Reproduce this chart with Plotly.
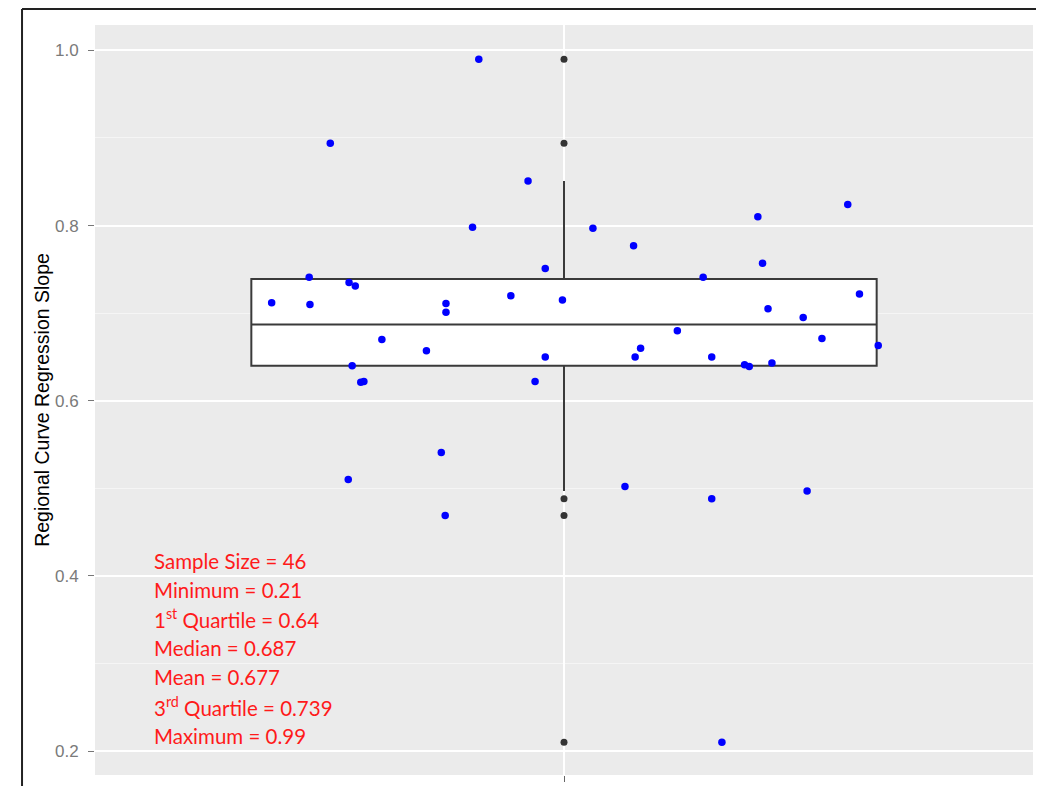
import plotly.graph_objects as go

# ---- data ----
jitter_x = [0.626, 0.674, 0.675, 0.701, 0.725, 0.733, 0.729, 0.740, 0.744, 0.724,
            0.767, 0.824, 0.849, 0.849, 0.843, 0.848, 0.883, 0.891, 0.932, 0.954,
            0.976, 0.976, 0.963, 0.998, 1.037, 1.089, 1.098, 1.091, 1.078, 1.145,
            1.178, 1.189, 1.189, 1.231, 1.237, 1.261, 1.266, 1.248, 1.254, 1.202,
            1.306, 1.330, 1.311, 1.363, 1.378, 1.402]
slopes = [0.712, 0.741, 0.710, 0.894, 0.735, 0.731, 0.640, 0.621, 0.622, 0.510,
          0.670, 0.657, 0.711, 0.701, 0.541, 0.469, 0.798, 0.990, 0.720, 0.851,
          0.751, 0.650, 0.622, 0.715, 0.797, 0.777, 0.660, 0.650, 0.502, 0.680,
          0.741, 0.650, 0.488, 0.641, 0.639, 0.705, 0.643, 0.810, 0.757, 0.210,
          0.695, 0.671, 0.497, 0.824, 0.722, 0.663]

box_pos = [1]
q1 = [0.640]
median = [0.687]
q3 = [0.739]
lower_whisker = [0.497]
upper_whisker = [0.851]
outliers = [0.990, 0.894, 0.488, 0.469, 0.210]

y_ticks = [0.2, 0.4, 0.6, 0.8, 1.0]
y_minor = [0.3, 0.5, 0.7, 0.9]

stats_lines = [
    "Sample Size = 46",
    "Minimum = 0.21",
    "1<sup>st</sup> Quartile = 0.64",
    "Median = 0.687",
    "Mean = 0.677",
    "3<sup>rd</sup> Quartile = 0.739",
    "Maximum = 0.99",
]

fig = go.Figure()

fig.add_trace(go.Box(
    x=box_pos, q1=q1, median=median, q3=q3,
    lowerfence=lower_whisker, upperfence=upper_whisker,
    width=0.8, whiskerwidth=0, boxpoints=False,
    fillcolor="white", line=dict(color="#3a3a3a", width=2),
    showlegend=False, hoverinfo="skip",
))

fig.add_trace(go.Scatter(
    x=box_pos * len(outliers), y=outliers, mode="markers",
    marker=dict(color="#333333", size=7),
    showlegend=False,
))

fig.add_trace(go.Scatter(
    x=jitter_x, y=slopes, mode="markers",
    marker=dict(color="#0000FF", size=7.5),
    showlegend=False,
))

for i, line in enumerate(stats_lines):
    fig.add_annotation(
        x=0.0608, xref="paper", y=0.4176 - i * 0.0333, yref="y",
        text=line, showarrow=False, xanchor="left", yanchor="middle",
        font=dict(family="Lato", size=20.5, color="#FF1A1A"),
    )

# outer frame (left and top edges visible in reference)
fig.add_shape(type="line", xref="paper", yref="paper",
              x0=-0.0778, x1=-0.0778, y0=-0.02, y1=1.0213,
              line=dict(color="#222222", width=2))
fig.add_shape(type="line", xref="paper", yref="paper",
              x0=-0.0778, x1=1.0032, y0=1.0213, y1=1.0213,
              line=dict(color="#222222", width=2))

fig.update_layout(
    width=1038, height=786,
    margin=dict(l=95, r=5, t=25, b=8),
    paper_bgcolor="white", plot_bgcolor="#EBEBEB",
    font=dict(family="Liberation Sans"),
)

fig.update_xaxes(
    range=[0.4, 1.6], tickvals=box_pos, showticklabels=False,
    ticks="outside", ticklen=6, tickcolor="#666666", tickwidth=1,
    showgrid=True, gridcolor="white", gridwidth=1.5, zeroline=False,
    showline=False,
)
fig.update_yaxes(
    range=[0.1727, 1.029], tickvals=y_ticks, tickformat=".1f",
    ticks="outside", ticklen=6, tickcolor="#777777", tickwidth=1,
    ticklabelstandoff=6,
    tickfont=dict(family="Liberation Sans", size=17, color="#7a7a7a"),
    showgrid=True, gridcolor="white", gridwidth=1.5, zeroline=False,
    minor=dict(tickvals=y_minor, showgrid=True, gridcolor="#F5F5F5", gridwidth=0.8, ticks=""),
    title=dict(text="Regional Curve Regression Slope",
               font=dict(family="Liberation Sans", size=19.5, color="black"),
               standoff=0),
    showline=False,
)

fig.write_html("out.html")
